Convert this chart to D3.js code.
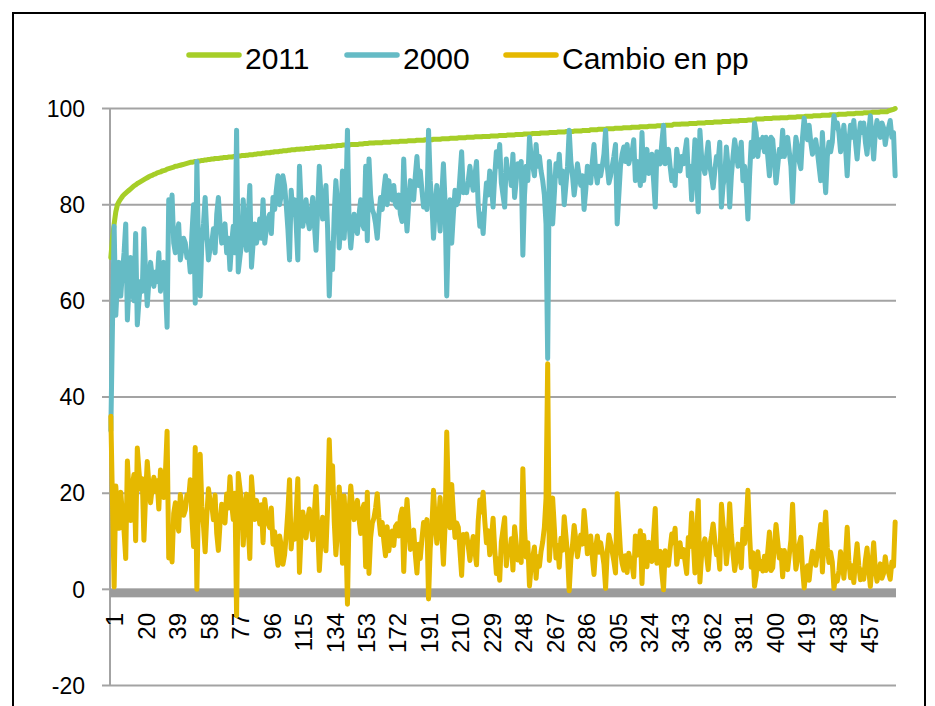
<!DOCTYPE html>
<html>
<head>
<meta charset="utf-8">
<script src="https://cdn.jsdelivr.net/npm/d3@7"></script>
<style>
  body { margin: 0; background: #fff; }
  svg { display: block; font-family: "Liberation Sans", Arial, sans-serif; }
</style>
</head>
<body>
<div id="chart"></div>
<script>
// series, one value per category
var serie2011 = [
  69.0,73.0,76.0,78.5,80.0,80.7,81.2,81.7,82.1,82.4,
  82.7,83.0,83.3,83.6,83.9,84.1,84.4,84.6,84.8,85.0,
  85.2,85.4,85.6,85.8,86.0,86.1,86.3,86.4,86.6,86.7,
  86.8,87.0,87.1,87.2,87.4,87.5,87.6,87.7,87.8,88.0,
  88.0,88.1,88.2,88.3,88.4,88.5,88.6,88.7,88.8,88.8,
  88.9,89.0,89.0,89.1,89.1,89.2,89.2,89.3,89.3,89.4,
  89.4,89.5,89.5,89.6,89.6,89.6,89.7,89.7,89.8,89.8,
  89.8,89.9,89.9,89.9,90.0,90.0,90.0,90.1,90.1,90.2,
  90.2,90.2,90.3,90.3,90.4,90.4,90.4,90.5,90.5,90.6,
  90.6,90.6,90.7,90.7,90.8,90.8,90.8,90.9,90.9,91.0,
  91.0,91.0,91.1,91.1,91.2,91.2,91.2,91.3,91.3,91.4,
  91.4,91.4,91.5,91.5,91.5,91.6,91.6,91.6,91.7,91.7,
  91.7,91.8,91.8,91.8,91.9,91.9,91.9,92.0,92.0,92.0,
  92.0,92.1,92.1,92.1,92.2,92.2,92.2,92.3,92.3,92.3,
  92.4,92.4,92.4,92.4,92.4,92.5,92.5,92.5,92.5,92.5,
  92.6,92.6,92.6,92.7,92.7,92.7,92.8,92.8,92.8,92.8,
  92.9,92.9,92.9,92.9,92.9,93.0,93.0,93.0,93.0,93.0,
  93.1,93.1,93.1,93.1,93.1,93.2,93.2,93.2,93.2,93.2,
  93.3,93.3,93.3,93.3,93.3,93.4,93.4,93.4,93.4,93.4,
  93.5,93.5,93.5,93.5,93.5,93.6,93.6,93.6,93.6,93.6,
  93.7,93.7,93.7,93.7,93.7,93.8,93.8,93.8,93.8,93.8,
  93.9,93.9,93.9,93.9,93.9,94.0,94.0,94.0,94.0,94.0,
  94.1,94.1,94.1,94.1,94.1,94.2,94.2,94.2,94.2,94.2,
  94.3,94.3,94.3,94.3,94.3,94.4,94.4,94.4,94.4,94.4,
  94.5,94.5,94.5,94.5,94.5,94.6,94.6,94.6,94.6,94.6,
  94.7,94.7,94.7,94.7,94.7,94.8,94.8,94.8,94.8,94.8,
  94.9,94.9,94.9,94.9,94.9,95.0,95.0,95.0,95.0,95.0,
  95.1,95.1,95.1,95.1,95.1,95.2,95.2,95.2,95.2,95.2,
  95.3,95.3,95.3,95.3,95.3,95.4,95.4,95.4,95.4,95.4,
  95.6,95.6,95.6,95.6,95.6,95.7,95.7,95.7,95.7,95.7,
  95.8,95.8,95.8,95.8,95.8,95.9,95.9,95.9,95.9,95.9,
  96.0,96.0,96.0,96.0,96.0,96.1,96.1,96.1,96.1,96.1,
  96.2,96.2,96.2,96.2,96.2,96.3,96.3,96.3,96.3,96.3,
  96.4,96.4,96.4,96.4,96.4,96.5,96.5,96.5,96.5,96.5,
  96.7,96.7,96.7,96.7,96.7,96.8,96.8,96.8,96.8,96.8,
  96.9,96.9,96.9,96.9,96.9,97.0,97.0,97.0,97.0,97.0,
  97.1,97.1,97.1,97.1,97.1,97.2,97.2,97.2,97.2,97.2,
  97.3,97.3,97.3,97.3,97.3,97.4,97.4,97.4,97.4,97.4,
  97.5,97.5,97.5,97.5,97.5,97.6,97.6,97.6,97.6,97.6,
  97.8,97.8,97.8,97.8,97.8,97.9,97.9,97.9,97.9,97.9,
  98.0,98.0,98.0,98.0,98.0,98.1,98.1,98.1,98.1,98.1,
  98.2,98.2,98.2,98.2,98.2,98.3,98.3,98.3,98.3,98.3,
  98.4,98.4,98.4,98.4,98.4,98.5,98.5,98.5,98.5,98.5,
  98.6,98.6,98.6,98.6,98.6,98.7,98.7,98.7,98.7,98.7,
  98.8,98.8,98.8,98.8,98.8,98.9,98.9,98.9,98.9,98.9,
  99.0,99.0,99.0,99.0,99.0,99.1,99.1,99.1,99.1,99.1,
  99.2,99.2,99.2,99.2,99.2,99.3,99.3,99.3,99.3,99.3,
  99.5,99.6,99.7,99.8,100.0
];

var serie2000 = [
  33,55,75.5,57,64,68,61,66,70,76,
  56,63,69,62,60,74,55,60,64,62,
  75,66,59,64,68,65,63,66,64,70,
  62,66,68,63,54.5,81,76,82,72,70,
  74,76,68.5,71,73,72,69,70,66,74,
  80,59.5,89,70,61,72,76,81.5,74,68.5,
  71,72,75,70,78,81.5,76,72,74,76,
  70,73,66.5,72,75.5,70,95.5,66,69,72,
  81,75,70.5,77,84,67,72,76,72,74,
  77,73,81,72,75,77,78,74,81.5,79,
  83,86,80,82,86,84,80,75,68.5,83,
  78,81,76,68.5,88,80,75.5,78,81,77,
  75,78,81.5,76,70.5,79,88,82,77,80,
  84,75,61,72,66.5,78,85,80,71,76,
  87,73,80,95.5,76,71,75,78,76,74,
  78,81,76,75,88,72.5,89.5,82,79,78,
  76,73,78,81.5,79,83,86,80,85,82,
  81,84,80,79.5,82,78,76.5,89.5,80,74.5,
  80,85,82,81,86,90,84,87,83,79.5,
  82,79,95.5,85,80.5,73,79,84,80,74.5,
  82,88.5,80.5,61,75,81,72,78,83,80,
  81,86,91,82.5,84,82.5,85,88,85,83,
  86,89,80,75.5,78,74,80,84.5,82,87,
  84,79.5,86,91,88,92.5,84.5,82,79.5,89.5,
  86,87,84,90.5,81.5,85,88.5,86,89,69.5,
  82,88,85,94,90,88,86,92.5,88,90,
  87,85,82,76,48,89,84,76,82,88.5,
  86,90.5,84.5,87,80,84,88,95.5,89,86,
  82,85,88.5,86,84,86,79,83,88,86,
  84.5,89,92.5,87,84.5,88,86,88,90.5,95.5,
  88,84.5,86,88,90,92.5,76,82,88,90.5,
  92,89,92.5,88.5,90,91,93.5,85,89,87,
  84,95,85,89,91.5,86.5,88,90.5,85,79.5,
  91,89,88.5,93,96.5,88.5,90,91.5,88,85,
  87,84,91.5,89,87,90,88.5,91,93.5,86,
  88,81,87,93.5,86,78.5,95.5,90,88,86.5,
  90,93,88,86,83.5,87,90,89,93,79.5,
  84,86,92,88,79.5,86,90,93.5,91,88,
  90,93,85,88,84,77,86,93,90,97,
  95,90,93.5,92,94,91,94,90,86,94,
  93.5,89,84.5,88,91.5,90,95.5,90,92,94,
  91,88,80.5,89,94,92,89,87.5,94,98,
  95,93.5,96.5,93,90.5,92,93.5,91,88,85,
  95,88,82.5,90,93,91,93,98.5,96,97,
  95,91,93,96.5,92,86,93,96.5,94,97.5,
  93,89.5,94,97,95,97,93,90.5,95,98.5,
  94,89.5,95,97.5,96,94,97,96,92.5,95,
  96,97.5,94,95,86
];

// Cambio en pp = 2011 - 2000, as defined in the chart
var cambio = serie2011.map(function (v, i) {
  return Math.round((v - serie2000[i]) * 10) / 10;
});

var categorias = d3.range(1, serie2011.length + 1);
var xTickLabels = [1, 20, 39, 58, 77, 96, 115, 134, 153, 172, 191, 210, 229,
  248, 267, 286, 305, 324, 343, 362, 381, 400, 419, 438, 457];
var yTickValues = [100, 80, 60, 40, 20, 0, -20];

var seriesNames = ["2011", "2000", "Cambio en pp"];
var seriesColors = ["#a6ce28", "#65bbc5", "#e5b800"];
var seriesData = [serie2011, serie2000, cambio];

var width = 935, height = 706;
var plot = { left: 110, right: 896, top: 108.5, bottom: 685.5 };

var svg = d3.select("#chart").append("svg")
  .attr("width", width)
  .attr("height", height);

// outer frame
svg.append("rect")
  .attr("x", 13).attr("y", 13)
  .attr("width", 912).attr("height", 720)
  .attr("fill", "none")
  .attr("stroke", "#000")
  .attr("stroke-width", 2);

var x = d3.scalePoint()
  .domain(categorias)
  .range([plot.left, plot.right])
  .padding(0.5);

var y = d3.scaleLinear()
  .domain([-20, 100])
  .range([plot.bottom, plot.top]);

// gridlines + tick marks
svg.selectAll("line.grid")
  .data(yTickValues.filter(function (d) { return d !== 0; }))
  .enter().append("line")
  .attr("class", "grid")
  .attr("x1", plot.left - 8)
  .attr("x2", plot.right)
  .attr("y1", function (d) { return y(d); })
  .attr("y2", function (d) { return y(d); })
  .attr("stroke", "#a3a3a3")
  .attr("stroke-width", 2);

// tick mark for 0
svg.append("line")
  .attr("x1", plot.left - 8).attr("x2", plot.left)
  .attr("y1", y(0)).attr("y2", y(0))
  .attr("stroke", "#a3a3a3")
  .attr("stroke-width", 2);

// y axis line
svg.append("line")
  .attr("x1", plot.left).attr("x2", plot.left)
  .attr("y1", plot.top).attr("y2", plot.bottom)
  .attr("stroke", "#a3a3a3")
  .attr("stroke-width", 2);

svg.selectAll("text.ylab")
  .data(yTickValues)
  .enter().append("text")
  .attr("class", "ylab")
  .attr("x", 85)
  .attr("y", function (d) { return y(d); })
  .attr("dy", "0.36em")
  .style("text-anchor", "end")
  .style("font-size", "23px")
  .attr("fill", "#000")
  .text(function (d) { return d; });

// thick category axis at zero
svg.append("rect")
  .attr("x", plot.left)
  .attr("y", y(0) - 1)
  .attr("width", plot.right - plot.left)
  .attr("height", 9)
  .attr("fill", "#9b9b9b");

svg.selectAll("text.xlab")
  .data(xTickLabels)
  .enter().append("text")
  .attr("class", "xlab")
  .attr("transform", function (d) {
    return "translate(" + (x(d) + 4) + ",613) rotate(-90)";
  })
  .attr("dy", "0.36em")
  .style("text-anchor", "end")
  .style("font-size", "24px")
  .attr("fill", "#000")
  .text(function (d) { return d; });

var line = d3.line()
  .x(function (d, i) { return x(categorias[i]); })
  .y(function (d) { return y(d); });

svg.selectAll("path.serie")
  .data(seriesData)
  .enter().append("path")
  .attr("class", "serie")
  .attr("d", function (d) { return line(d); })
  .attr("fill", "none")
  .attr("stroke", function (d, i) { return seriesColors[i]; })
  .attr("stroke-width", 5)
  .attr("stroke-linejoin", "round")
  .attr("stroke-linecap", "round");

// legend
var legendX = [187, 345, 504];
var legend = svg.selectAll("g.legend")
  .data(seriesNames)
  .enter().append("g")
  .attr("class", "legend")
  .attr("transform", function (d, i) { return "translate(" + legendX[i] + ",0)"; });

legend.append("line")
  .attr("x1", 2).attr("x2", 52)
  .attr("y1", 55).attr("y2", 55)
  .attr("stroke", function (d, i) { return seriesColors[i]; })
  .attr("stroke-width", 5.5)
  .attr("stroke-linecap", "round");

legend.append("text")
  .attr("x", 58)
  .attr("y", 69)
  .style("font-size", "30px")
  .attr("fill", "#000")
  .text(function (d) { return d; });
</script>
</body>
</html>
